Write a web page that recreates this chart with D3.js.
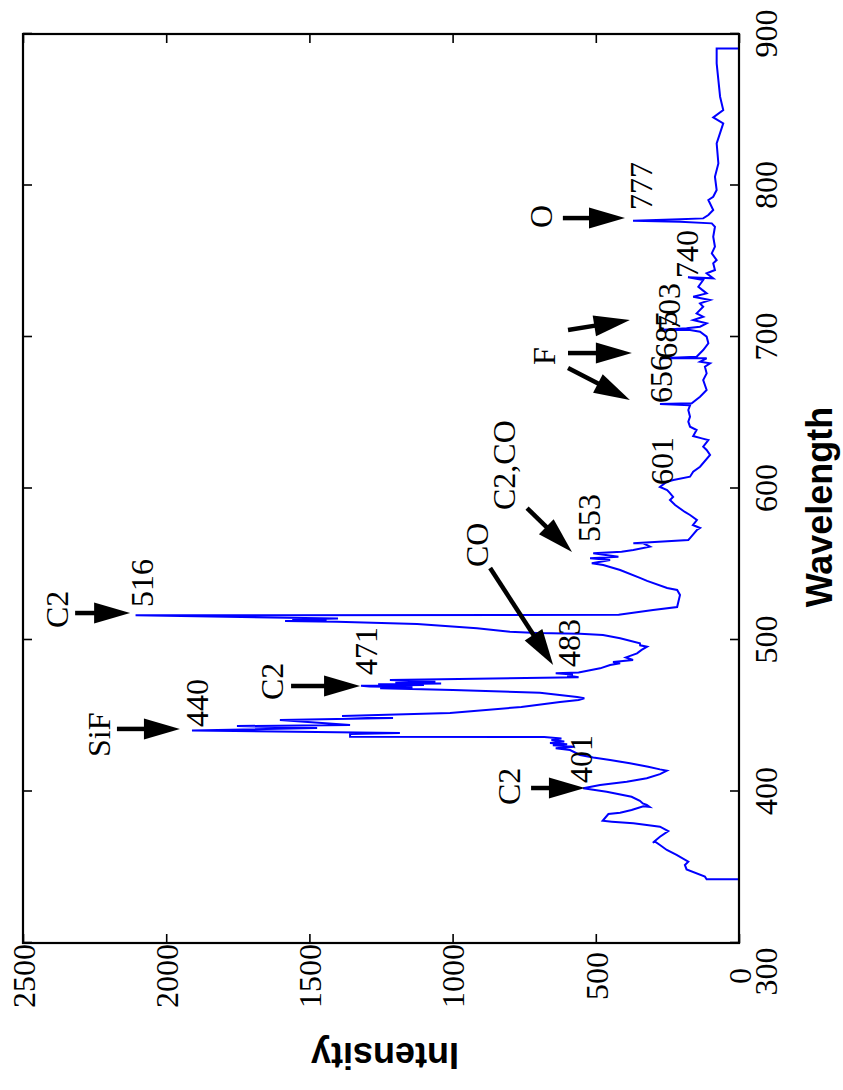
<!DOCTYPE html>
<html><head><meta charset="utf-8">
<script src="https://cdn.jsdelivr.net/npm/d3@7"></script>
<style>
html,body{margin:0;padding:0;background:#fff;}
svg{display:block;}
.serif{font-family:'Liberation Serif','Times New Roman',Times,serif;}
.sansb{font-family:'Liberation Sans',Arial,Helvetica,sans-serif;font-weight:bold;}
</style></head><body>
<svg id="chart" width="843" height="1090"></svg>
<script>
// Plasma emission spectrum, wavelength in nm against intensity in counts
const wavelength = [
  342.0,342.1,343.8,348.6,351.5,353.7,358.1,361.4,364.7,366.9,366.2,370.1,373.9,376.8,377.9,379.0,380.1,380.7,
  385.1,386.0,387.8,390.2,389.8,391.2,392.1,393.9,396.5,399.9,402.1,404.3,406.5,408.7,411.5,413.7,414.6,416.4,
  418.6,420.8,422.5,424.1,427.4,428.5,429.5,430.5,431.2,432.0,433.0,434.0,435.0,436.0,436.2,438.0,438.6,440.2,
  441.9,443.2,443.9,447.2,448.5,449.8,451.8,455.8,459.1,460.4,461.5,462.4,465.2,467.0,468.1,468.8,469.3,469.8,
  470.3,470.8,471.3,471.8,472.5,473.6,475.4,476.5,477.2,478.0,478.6,481.3,483.5,484.6,485.5,486.8,488.5,491.2,
  493.5,495.6,496.5,497.8,501.1,503.3,504.2,504.6,505.5,507.7,510.6,512.1,512.5,513.0,513.6,514.2,516.3,516.6,
  519.8,521.8,529.7,533.0,534.3,539.0,541.0,546.2,549.5,550.6,552.8,553.9,555.0,557.2,558.2,559.4,561.6,563.8,
  563.9,566.0,567.3,572.6,573.9,575.9,579.2,582.5,584.5,589.1,592.4,594.4,597.0,599.0,601.0,604.5,605.6,607.8,
  611.1,614.4,622.1,625.4,627.6,632.0,633.1,634.6,638.6,640.8,644.1,647.4,651.8,654.9,655.8,656.2,660.6,665.0,
  671.6,676.0,680.4,682.6,683.7,685.9,685.9,687.0,691.4,695.8,700.2,703.5,704.6,704.6,705.7,706.8,709.0,711.2,
  713.4,715.6,720.0,722.2,724.4,726.6,728.8,733.2,737.6,739.4,738.7,742.0,744.2,748.6,750.8,755.2,759.6,766.2,
  772.8,775.0,776.1,776.8,777.7,778.3,780.5,783.8,790.4,792.6,797.0,805.8,814.6,827.8,841.0,845.0,849.8,858.6,
  869.6,880.6,890.5,890.5
];
const intensity = [
  0,113,119,183,189,177,218,252,276,293,301,276,247,276,322,369,444,476,
  456,415,375,334,312,322,336,346,375,462,544,485,392,322,276,252,276,317,
  381,450,509,555,590,640,575,650,600,660,610,655,620,680,1358,1358,1184,1910,
  1473,1753,1358,1603,1208,1386,1009,760,625,560,540,565,695,999,1253,1140,1290,1320,
  1100,1260,1040,1200,1060,1219,560,600,580,640,560,485,450,415,440,370,395,356,
  340,321,345,346,415,475,555,705,800,915,1124,1404,1585,1440,1560,1400,2107,420,
  300,216,206,216,251,321,346,415,474,514,450,520,421,509,410,369,311,334,
  369,177,171,147,136,161,147,171,189,223,241,230,241,251,276,252,229,171,
  160,136,101,113,125,107,130,160,148,171,177,171,177,171,276,165,136,113,
  125,113,119,101,136,113,276,148,125,107,113,136,171,276,183,136,113,160,
  125,148,125,136,101,160,113,142,125,178,90,113,84,90,78,95,84,90,
  84,95,206,370,206,125,107,90,107,90,78,84,72,78,55,90,55,66,
  72,78,78,0
];

const wavelengthTicks = [300, 400, 500, 600, 700, 800, 900];
const intensityTicks = [0, 500, 1000, 1500, 2000, 2500];

// Line identifications: value labels beside the peaks
const peakLabels = ["516", "440", "471", "401", "483", "553", "601", "656", "685", "703", "740", "777"];
const peakLabelWl = [521.8, 442.6, 476.9, 405.6, 482.2, 564.7, 602.3, 656.4, 685.6, 704.0, 739.0, 783.8];
const peakLabelInt = [2046, 1854, 1264, 513, 555, 485, 230, 234, 216, 206, 143, 304];

// Emitting species
const speciesLabels = ["C2", "SiF", "C2", "C2", "CO", "C2,CO", "F", "O"];
const speciesWl = [507.9, 422.8, 460.4, 391.1, 548.2, 585.8, 681.5, 772.0];
const speciesInt = [2343, 2196, 1592, 765, 876, 782, 642, 653];

// Arrows from species towards the lines
const arrowFromWl = [517.8, 441.3, 469.6, 402.3, 547.5, 587.1, 679.5, 689.4, 704.6, 778.5];
const arrowFromInt = [2318, 2172, 1564, 726, 869, 740, 597, 597, 597, 615];
const arrowToWl = [517.8, 441.3, 469.6, 402.3, 483.5, 558.1, 658.4, 689.4, 711.2, 778.5];
const arrowToInt = [2126, 1952, 1323, 538, 649, 583, 381, 374, 381, 398];

const W = 909, H = 716;
const svg = d3.select("#chart");
// The whole plot is laid out on its side
const g = svg.append("g").attr("transform", "translate(23,943) rotate(-90)");

const x = d3.scaleLinear().domain([300, 900]).range([0, W]);
const y = d3.scaleLinear().domain([0, 2500]).range([H, 0]);

function styleAxis(sel) {
  sel.attr("font-family", null).attr("font-size", null);
  sel.select(".domain").remove();
  sel.selectAll(".tick line").attr("stroke", "#000").attr("stroke-width", 1.6);
  sel.selectAll(".tick text").attr("class", "serif")
    .style("font-size", "32px").attr("fill", "#000");
}

// Bottom (wavelength) axis with labels
const xAxis = g.append("g").attr("transform", `translate(0,${H})`)
  .call(d3.axisBottom(x).tickValues(wavelengthTicks).tickFormat(d3.format("d"))
    .tickSizeInner(-9).tickSizeOuter(0).tickPadding(15));
styleAxis(xAxis);
xAxis.selectAll(".tick text").attr("x", d => d === 300 ? -29 : 0);

// Top mirror ticks
const xAxisTop = g.append("g")
  .call(d3.axisTop(x).tickValues(wavelengthTicks).tickFormat("").tickSizeInner(-9).tickSizeOuter(0));
styleAxis(xAxisTop);

// Left (intensity) axis with labels
const yAxis = g.append("g")
  .call(d3.axisLeft(y).tickValues(intensityTicks).tickFormat(d3.format("d"))
    .tickSizeInner(-9).tickSizeOuter(0));
styleAxis(yAxis);
yAxis.selectAll(".tick text").attr("text-anchor", "middle").attr("x", -33).attr("dy", "0.35em");

// Right mirror ticks
const yAxisRight = g.append("g").attr("transform", `translate(${W},0)`)
  .call(d3.axisRight(y).tickValues(intensityTicks).tickFormat("").tickSizeInner(-9).tickSizeOuter(0));
styleAxis(yAxisRight);

// Spectrum trace
const idx = d3.range(wavelength.length);
const line = d3.line().x(i => x(wavelength[i])).y(i => y(intensity[i]));
g.append("path").datum(idx).attr("d", line)
  .attr("fill", "none").attr("stroke", "#0000ff").attr("stroke-width", 2)
  .attr("stroke-linejoin", "miter");

// Frame
g.append("rect").attr("x", 0).attr("y", 0).attr("width", W).attr("height", H)
  .attr("fill", "none").attr("stroke", "#000").attr("stroke-width", 2.2);

// Arrows
const headLen = 36, headHalf = 10.5;
const arrows = g.append("g");
arrowFromWl.forEach((_, i) => {
  const x1 = x(arrowFromWl[i]), y1 = y(arrowFromInt[i]);
  const x2 = x(arrowToWl[i]), y2 = y(arrowToInt[i]);
  const dx = x2 - x1, dy = y2 - y1, len = Math.hypot(dx, dy);
  const ux = dx / len, uy = dy / len;
  const bx = x2 - ux * headLen, by = y2 - uy * headLen;
  arrows.append("line").attr("x1", x1).attr("y1", y1)
    .attr("x2", x2 - ux * (headLen - 4)).attr("y2", y2 - uy * (headLen - 4))
    .attr("stroke", "#000").attr("stroke-width", 4.5);
  arrows.append("path")
    .attr("d", `M${x2},${y2}L${bx - uy * headHalf},${by + ux * headHalf}L${bx + uy * headHalf},${by - ux * headHalf}Z`)
    .attr("fill", "#000");
});

// Peak value labels
g.append("g").selectAll("text").data(peakLabels).join("text")
  .attr("class", "serif").style("font-size", "32px").attr("fill", "#000")
  .attr("x", (d, i) => x(peakLabelWl[i])).attr("y", (d, i) => y(peakLabelInt[i]))
  .text(d => d);

// Species labels
g.append("g").selectAll("text").data(speciesLabels).join("text")
  .attr("class", "serif").style("font-size", "32px").attr("fill", "#000")
  .attr("x", (d, i) => x(speciesWl[i])).attr("y", (d, i) => y(speciesInt[i]))
  .text(d => d);

// Axis titles
g.append("text").attr("x", 436).attr("y", H + 93)
  .attr("text-anchor", "middle").attr("class", "sansb")
  .style("font-size", "36px").attr("fill", "#000").text("Wavelength");
g.append("text").attr("transform", `translate(-100,${H / 2 + 4}) rotate(-90)`)
  .attr("text-anchor", "middle").attr("class", "sansb")
  .style("font-size", "36px").attr("fill", "#000").text("Intensity");
</script>
</body></html>
